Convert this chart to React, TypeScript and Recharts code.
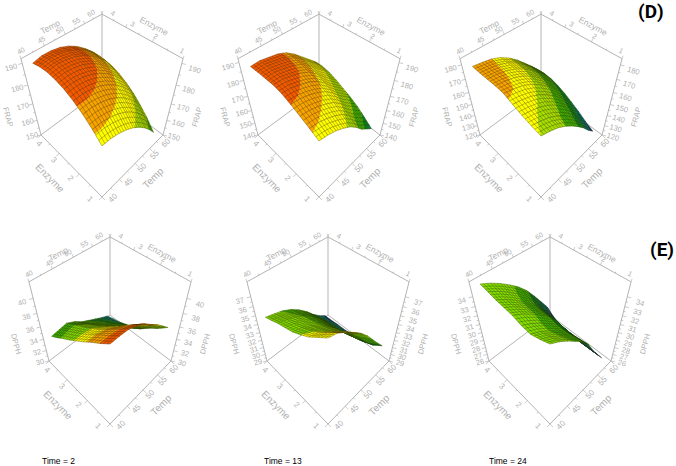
import { ScatterChart, Scatter, XAxis, YAxis } from 'recharts'

const WIDTH = 676
const HEIGHT = 466

// grid the surfaces are read on
const temps = [42, 44.125, 46.25, 48.375, 50.5, 52.625, 54.75, 56.875, 59]
const enzymes = [1.3, 1.6375, 1.975, 2.3125, 2.65, 2.9875, 3.325, 3.6625, 4]

const tempTicks = [40, 45, 50, 55, 60]
const tempMinor = [42.5, 47.5, 52.5, 57.5]
const enzymeTicks = [1, 2, 3, 4]
const enzymeMinor = [1.5, 2.5, 3.5]

// one row per enzyme value, one column per temperature
const frapTime2 = [
  [174.8, 174.5, 173.3, 171.4, 168.7, 165.2, 160.9, 155.9, 150.0],
  [179.2, 179.0, 178.0, 176.2, 173.7, 170.3, 166.2, 161.3, 155.6],
  [182.8, 182.8, 181.9, 180.3, 177.9, 174.6, 170.6, 165.9, 160.3],
  [185.6, 185.7, 185.0, 183.5, 181.2, 178.2, 174.3, 169.7, 164.3],
  [187.6, 187.9, 187.3, 185.9, 183.8, 180.9, 177.2, 172.7, 167.4],
  [188.8, 189.2, 188.7, 187.6, 185.6, 182.8, 179.2, 175.0, 169.8],
  [189.3, 189.9, 189.5, 188.5, 186.7, 184.0, 180.6, 176.5, 171.4],
  [188.9, 189.6, 189.4, 188.5, 186.8, 184.4, 181.1, 177.1, 172.2],
  [187.8, 188.7, 188.6, 187.9, 186.3, 184.0, 180.8, 177.0, 172.2],
]
const frapTime13 = [
  [174.1, 172.8, 170.7, 167.6, 163.9, 158.7, 152.5, 147.8, 143.4],
  [176.9, 175.9, 173.9, 171.2, 167.8, 162.8, 156.8, 152.2, 147.8],
  [179.5, 178.7, 177.0, 174.5, 171.4, 166.6, 161.0, 156.4, 152.0],
  [182.1, 181.4, 179.8, 177.5, 174.4, 169.8, 164.3, 159.6, 155.1],
  [184.2, 183.7, 182.0, 180.0, 177.0, 172.5, 167.0, 162.3, 157.7],
  [185.2, 184.9, 183.5, 181.7, 179.1, 174.7, 169.5, 164.9, 160.3],
  [185.2, 185.3, 184.0, 182.7, 180.3, 176.3, 171.5, 167.0, 162.4],
  [185.2, 185.4, 184.3, 183.1, 181.0, 177.2, 172.5, 167.9, 163.4],
  [185.0, 185.2, 184.2, 183.2, 181.1, 177.4, 172.8, 168.1, 163.4],
]
const frapTime24 = [
  [165.9, 163.5, 160.3, 155.8, 150.1, 143.7, 136.6, 128.3, 121.3],
  [167.4, 165.3, 162.5, 158.3, 153.0, 146.9, 140.0, 132.1, 125.1],
  [169.3, 167.5, 165.1, 161.4, 156.4, 150.6, 143.9, 136.4, 129.6],
  [171.8, 170.2, 168.0, 164.5, 159.7, 154.1, 147.5, 140.2, 133.4],
  [174.4, 173.0, 170.9, 167.6, 163.0, 157.5, 151.0, 143.9, 137.0],
  [175.0, 173.9, 172.1, 169.2, 165.0, 159.6, 153.4, 146.5, 139.8],
  [175.0, 174.2, 172.7, 170.1, 166.2, 161.1, 155.0, 148.5, 141.8],
  [175.0, 174.2, 172.9, 170.5, 166.7, 161.6, 155.5, 149.1, 142.4],
  [175.4, 174.4, 173.1, 170.6, 166.7, 161.6, 155.2, 148.8, 141.8],
]
const dpphTime2 = [
  [40.8, 40.8, 40.7, 40.3, 39.6, 38.6, 37.7, 36.6, 35.5],
  [39.8, 39.8, 39.7, 39.3, 38.5, 37.5, 36.6, 35.5, 34.4],
  [38.9, 38.9, 38.7, 38.2, 37.4, 36.5, 35.5, 34.5, 33.5],
  [37.9, 37.9, 37.7, 37.2, 36.3, 35.3, 34.4, 33.4, 32.4],
  [37.0, 37.0, 36.9, 36.3, 35.4, 34.5, 33.6, 32.7, 31.8],
  [36.1, 36.2, 36.1, 35.5, 34.6, 33.8, 33.0, 32.1, 31.3],
  [35.3, 35.4, 35.4, 34.8, 33.9, 33.1, 32.3, 31.6, 30.8],
  [34.4, 34.6, 34.7, 34.0, 33.2, 32.5, 31.8, 31.1, 30.5],
  [33.6, 33.8, 34.0, 33.4, 32.5, 31.9, 31.3, 30.7, 30.2],
]
const dpphTime13 = [
  [38.02, 37.74, 37.08, 36.33, 35.49, 34.45, 33.23, 32.01, 30.88],
  [37.27, 36.96, 36.32, 35.57, 34.72, 33.67, 32.44, 31.23, 30.13],
  [36.52, 36.23, 35.65, 34.95, 34.13, 33.12, 31.92, 30.79, 29.75],
  [35.96, 35.69, 35.16, 34.52, 33.73, 32.76, 31.6, 30.52, 29.56],
  [35.49, 35.23, 34.75, 34.15, 33.39, 32.44, 31.31, 30.28, 29.38],
  [35.2, 34.93, 34.5, 33.91, 33.17, 32.24, 31.12, 30.13, 29.28],
  [34.92, 34.67, 34.28, 33.73, 33.01, 32.11, 31.01, 30.07, 29.28],
  [34.55, 34.3, 33.96, 33.45, 32.75, 31.88, 30.81, 29.92, 29.19],
  [34.22, 33.98, 33.7, 33.23, 32.57, 31.73, 30.69, 29.85, 29.19],
]
const dpphTime24 = [
  [34.46, 33.9, 33.19, 32.39, 31.55, 30.42, 28.82, 27.41, 26.09],
  [34.08, 33.57, 32.9, 32.15, 31.35, 30.28, 28.76, 27.38, 26.09],
  [33.8, 33.32, 32.69, 31.98, 31.2, 30.17, 28.71, 27.36, 26.09],
  [33.9, 33.4, 32.77, 32.03, 31.24, 30.2, 28.76, 27.4, 26.09],
  [34.18, 33.66, 33.0, 32.24, 31.43, 30.37, 28.94, 27.55, 26.19],
  [34.27, 33.73, 33.06, 32.3, 31.46, 30.4, 28.98, 27.58, 26.19],
  [34.37, 33.83, 33.16, 32.39, 31.55, 30.49, 29.1, 27.69, 26.28],
  [34.55, 34.04, 33.41, 32.68, 31.86, 30.85, 29.52, 28.15, 26.75],
  [34.71, 34.27, 33.71, 33.05, 32.3, 31.36, 30.14, 28.82, 27.48],
]

const frapColors = ['#00336e', '#00766a', '#0a8a20', '#3cb400', '#a6e000', '#ffff00', '#f8a400', '#f25a00']
const dpphColors = ['#00336e', '#00766a', '#0a8a20', '#3cb400', '#80e000', '#ffff00', '#f8a400', '#f25a00']

const panels = [
  { fx: 102, fy: 197, vp: 170, k: 105, zMin: 150, zMax: 192, zTicks: [150, 160, 170, 180, 190], zMinor: [155, 165, 175, 185], title: 'FRAP', grid: frapTime2, levels: [125, 135, 148, 157, 168, 178, 184.5], colors: frapColors },
  { fx: 319, fy: 197, vp: 170, k: 105, zMin: 140, zMax: 192, zTicks: [140, 150, 160, 170, 180, 190], zMinor: [145, 155, 165, 175, 185], title: 'FRAP', grid: frapTime13, levels: [136, 145, 150, 157, 166, 176, 182], colors: frapColors },
  { fx: 541, fy: 197, vp: 170, k: 105, zMin: 120, zMax: 184, zTicks: [120, 130, 140, 150, 160, 170, 180], zMinor: [125, 135, 145, 155, 165, 175], title: 'FRAP', grid: frapTime24, levels: [126, 134, 144, 156, 166, 173, 190], colors: frapColors },
  { fx: 110, fy: 424, vp: 178, k: 107.6, zMin: 30, zMax: 42, zTicks: [30, 32, 34, 36, 38, 40], zMinor: [31, 33, 35, 37, 39], title: 'DPPH', grid: dpphTime2, levels: [30.2, 31, 32.2, 35, 36.8, 38.3, 39.8], colors: dpphColors },
  { fx: 328, fy: 424, vp: 178, k: 107.6, zMin: 29, zMax: 38.4, zTicks: [29, 30, 31, 32, 33, 34, 35, 36, 37], zMinor: [29.5, 30.5, 31.5, 32.5, 33.5, 34.5, 35.5, 36.5], title: 'DPPH', grid: dpphTime13, levels: [29.5, 30.2, 31.5, 33.8, 36, 38.5, 40], colors: dpphColors },
  { fx: 550, fy: 424, vp: 178, k: 107.6, zMin: 26, zMax: 35.4, zTicks: [26, 27, 28, 29, 30, 31, 32, 33, 34], zMinor: [26.5, 27.5, 28.5, 29.5, 30.5, 31.5, 32.5, 33.5], title: 'DPPH', grid: dpphTime24, levels: [27.5, 29.5, 31.2, 32.7, 36, 38, 40], colors: dpphColors },
]

const captions = [
  { x: 42, y: 464, text: 'Time = 2' },
  { x: 264, y: 464, text: 'Time = 13' },
  { x: 489, y: 464, text: 'Time = 24' },
]
const letters = [
  { x: 638, y: 18, text: '(D)' },
  { x: 650, y: 256, text: '(E)' },
]

type Panel = (typeof panels)[number]

// perspective of the box, same camera for all six
function project(p: Panel, T: number, E: number, z: number) {
  const u = (T - 40) / 20
  const v = (E - 1) / 3
  const w = (z - p.zMin) / (p.zMax - p.zMin)
  const n = u + v
  const h = 1 + 0.185 * n - 0.293 * w
  return { x: p.fx + (72.3 * (u - v)) / h, y: p.fy + p.vp - (p.vp + p.k * n) / h, z }
}

function buildCells(p: Panel) {
  const cells = []
  for (let j = 0; j < enzymes.length - 1; j++) {
    for (let i = 0; i < temps.length - 1; i++) {
      const corners = [
        project(p, temps[i], enzymes[j], p.grid[j][i]),
        project(p, temps[i + 1], enzymes[j], p.grid[j][i + 1]),
        project(p, temps[i + 1], enzymes[j + 1], p.grid[j + 1][i + 1]),
        project(p, temps[i], enzymes[j + 1], p.grid[j + 1][i]),
      ]
      const x = corners.reduce((s, c) => s + c.x, 0) / 4
      const y = corners.reduce((s, c) => s + c.y, 0) / 4
      cells.push({ x, y, corners, levels: p.levels, colors: p.colors, depth: i + j })
    }
  }
  // back of the box first
  return cells.sort((a, b) => b.depth - a.depth)
}

type Vertex = { x: number; y: number; z: number }

function clip(poly: Vertex[], limit: number, keepAbove: boolean) {
  const out: Vertex[] = []
  poly.forEach((a, idx) => {
    const b = poly[(idx + 1) % poly.length]
    const aIn = keepAbove ? a.z >= limit : a.z <= limit
    const bIn = keepAbove ? b.z >= limit : b.z <= limit
    if (aIn) out.push(a)
    if (aIn !== bIn) {
      const t = (limit - a.z) / (b.z - a.z)
      out.push({ x: a.x + (b.x - a.x) * t, y: a.y + (b.y - a.y) * t, z: limit })
    }
  })
  return out
}

const toPoints = (poly: { x: number; y: number }[], dx: number, dy: number) =>
  poly.map((c) => `${(c.x + dx).toFixed(2)},${(c.y + dy).toFixed(2)}`).join(' ')

function CellShape(props: any) {
  const { cx, cy, payload } = props
  const dx = cx - payload.x
  const dy = cy - payload.y
  const [a, b, c, d] = payload.corners
  const edges = [-Infinity, ...payload.levels, Infinity]
  const hatch = []
  // the mesh is finer than the cells, three lines a side
  for (let s = 0; s <= 3; s++) {
    const t = s / 3
    hatch.push([
      { x: a.x + (b.x - a.x) * t, y: a.y + (b.y - a.y) * t },
      { x: d.x + (c.x - d.x) * t, y: d.y + (c.y - d.y) * t },
    ])
    hatch.push([
      { x: a.x + (d.x - a.x) * t, y: a.y + (d.y - a.y) * t },
      { x: b.x + (c.x - b.x) * t, y: b.y + (c.y - b.y) * t },
    ])
  }
  return (
    <g>
      {payload.colors.map((color: string, i: number) => {
        const poly = clip(clip(payload.corners, edges[i], true), edges[i + 1], false)
        if (poly.length < 3) return null
        return <polygon key={i} points={toPoints(poly, dx, dy)} fill={color} stroke={color} strokeWidth={0.3} />
      })}
      {hatch.map((l, i) => (
        <polyline key={i} points={toPoints(l, dx, dy)} fill="none" stroke="#2a1c00" strokeOpacity={0.6} strokeWidth={0.5} />
      ))}
    </g>
  )
}

const NoDot = () => <g />

function AxisLabel(props: any) {
  const { cx, cy, payload } = props
  const { text, angle, size, ox, oy, tx, ty } = payload
  return (
    <g>
      {tx !== undefined && <line x1={cx} y1={cy} x2={cx + tx} y2={cy + ty} stroke="#b4b4b4" strokeWidth={0.7} />}
      {text && (
        <text
          x={cx + ox}
          y={cy + oy}
          fontSize={size}
          fontFamily="Liberation Sans"
          fill="#b0b0b0"
          textAnchor="middle"
          dominantBaseline="central"
          transform={`rotate(${angle} ${cx + ox} ${cy + oy})`}
        >
          {text}
        </text>
      )}
    </g>
  )
}

function PlainLabel(props: any) {
  const { cx, cy, payload, fontSize, fontWeight, fontFamily } = props
  return (
    <text x={cx} y={cy} fontSize={fontSize} fontWeight={fontWeight} fontFamily={fontFamily} fill="#000">
      {payload.text}
    </text>
  )
}

function lerp(a: number, b: number, t: number) {
  return a + (b - a) * t
}

function axisTicks(
  values: number[],
  at: (v: number) => { x: number; y: number },
  angle: number,
  from: number[],
  to: number[],
  tick: number[],
  size: number
) {
  const lo = values[0]
  const hi = values[values.length - 1]
  return values.map((v) => {
    const t = (v - lo) / (hi - lo)
    return {
      ...at(v),
      text: String(v),
      angle,
      size,
      ox: lerp(from[0], to[0], t),
      oy: lerp(from[1], to[1], t),
      tx: tick[0],
      ty: tick[1],
    }
  })
}

// short marks between the labelled ticks
function minorTicks(values: number[], at: (v: number) => { x: number; y: number }, tick: number[]) {
  return values.map((v) => ({ ...at(v), text: '', angle: 0, size: 0, ox: 0, oy: 0, tx: tick[0] / 2, ty: tick[1] / 2 }))
}

function panelParts(p: Panel) {
  const bot = (T: number, E: number) => project(p, T, E, p.zMin)
  const top = (T: number, E: number) => project(p, T, E, p.zMax)
  const frame = [
    [bot(40, 4), bot(40, 1), bot(60, 1), bot(60, 4), bot(40, 4)],
    [bot(40, 4), top(40, 4), top(60, 4), top(60, 1), bot(60, 1)],
    [bot(60, 4), top(60, 4)],
  ]
  const leftZ = (z: number) => project(p, 40, 4, z)
  const rightZ = (z: number) => project(p, 60, 1, z)
  const labels = [
    ...axisTicks(enzymeTicks, (e) => bot(40, e), 45, [-12, 2], [-2, 9], [-3, 3], 8),
    ...axisTicks(tempTicks, (t) => bot(t, 1), -45, [11, 1], [3, 8], [3, 3], 8),
    ...axisTicks(tempTicks, (t) => top(t, 4), -28, [0, -8], [-11, -1], [-1, -3], 7),
    ...axisTicks(enzymeTicks, (e) => top(60, e), 28, [-1, -8], [11, -1], [1, -3], 7),
    ...axisTicks(p.zTicks, leftZ, -16, [-9, 1], [-11, 4], [-4, 1], 7.5),
    ...axisTicks(p.zTicks, rightZ, 16, [11, 2], [13, 6], [4, 1], 7.5),
    ...minorTicks(enzymeMinor, (e) => bot(40, e), [-3, 3]),
    ...minorTicks(tempMinor, (t) => bot(t, 1), [3, 3]),
    ...minorTicks(tempMinor, (t) => top(t, 4), [-1, -3]),
    ...minorTicks(enzymeMinor, (e) => top(60, e), [1, -3]),
    ...minorTicks(p.zMinor, leftZ, [-4, 1]),
    ...minorTicks(p.zMinor, rightZ, [4, 1]),
  ]
  const titles = [
    { x: p.fx - 52, y: p.fy - 19, text: 'Enzyme', angle: 45, size: 10 },
    { x: p.fx + 51, y: p.fy - 19, text: 'Temp', angle: -45, size: 10 },
    { x: p.fx - 52, y: p.fy - 170, text: 'Temp', angle: -28, size: 8.5 },
    { x: p.fx + 52, y: p.fy - 171, text: 'Enzyme', angle: 28, size: 8.5 },
    { x: p.fx - 94, y: p.fy - 80, text: p.title, angle: 75, size: 7.5 },
    { x: p.fx + 95, y: p.fy - 80, text: p.title, angle: -75, size: 7.5 },
  ].map((d) => ({ ...d, ox: 0, oy: 0 }))
  return { frame, labels, titles, cells: buildCells(p) }
}

export default function App() {
  return (
    <div style={{ position: 'absolute', left: 0, top: 0, width: WIDTH, height: HEIGHT, background: '#fff' }}>
      <ScatterChart width={WIDTH} height={HEIGHT} margin={{ top: 0, right: 0, bottom: 0, left: 0 }}>
        <XAxis type="number" dataKey="x" domain={[0, WIDTH]} hide allowDataOverflow />
        <YAxis type="number" dataKey="y" domain={[0, HEIGHT]} reversed hide allowDataOverflow />
        {panels.flatMap((p, idx) => {
          const { frame, labels, titles, cells } = panelParts(p)
          return [
            ...frame.map((edge, i) => (
              <Scatter
                key={`frame-${idx}-${i}`}
                data={edge}
                line={{ stroke: '#b4b4b4', strokeWidth: 1 }}
                shape={NoDot}
                isAnimationActive={false}
              />
            )),
            <Scatter key={`labels-${idx}`} data={[...labels, ...titles]} shape={AxisLabel} isAnimationActive={false} />,
            <Scatter key={`surface-${idx}`} data={cells} shape={CellShape} isAnimationActive={false} />,
          ]
        })}
        <Scatter
          data={captions}
          shape={(s: any) => <PlainLabel {...s} fontSize={8.5} fontFamily="Liberation Sans" />}
          isAnimationActive={false}
        />
        <Scatter
          data={letters}
          shape={(s: any) => <PlainLabel {...s} fontSize={19} fontWeight={700} fontFamily="Roboto" />}
          isAnimationActive={false}
        />
      </ScatterChart>
    </div>
  )
}
